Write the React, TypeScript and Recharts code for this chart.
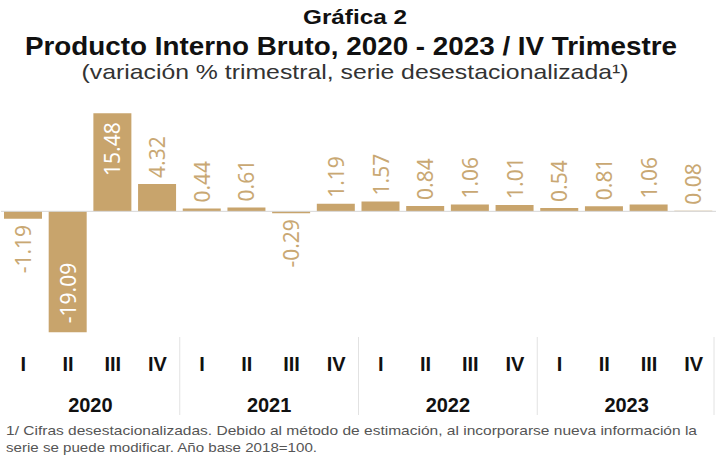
import React from "react";
import { BarChart, Bar, XAxis, YAxis, ReferenceLine, LabelList } from "recharts";

const quarters = ["I", "II", "III", "IV"];
const years = ["2020", "2021", "2022", "2023"];
const values = [-1.19, -19.09, 15.48, 4.32, 0.44, 0.61, -0.29, 1.19, 1.57, 0.84, 1.06, 1.01, 0.54, 0.81, 1.06, 0.08];

const data = values.map((v, i) => ({
  key: `${years[Math.floor(i / 4)]}-${quarters[i % 4]}`,
  q: quarters[i % 4],
  year: years[Math.floor(i / 4)],
  v,
}));

const W = 717;
const H = 458;
const MARGIN = { top: 110, right: 1, bottom: 30, left: 1 };
const BAR_COLOR = "#C8A46C";
const LABEL_COLOR = "#C9A873";
const SEP_COLOR = "#E2E2E2";

const AxisTick = (props: any) => {
  const { x, y, payload } = props;
  const idx = payload?.index ?? 0;
  const d = data[idx];
  const half = payload?.offset ? payload.offset : (W - MARGIN.left - MARGIN.right) / 32;
  const pos = idx % 4;
  return (
    <g>
      <text
        x={x}
        y={y + 33}
        textAnchor="middle"
        fontFamily="'Liberation Sans', Arial, sans-serif"
        fontWeight="bold"
        fontSize={20}
        fill="#111"
      >
        {d.q}
      </text>
      {pos === 1 && (
        <text
          x={x + half}
          y={y + 74}
          textAnchor="middle"
          fontFamily="'Liberation Sans', Arial, sans-serif"
          fontWeight="bold"
          fontSize={20}
          fill="#111"
        >
          {d.year}
        </text>
      )}
      {pos === 0 && idx > 0 && (
        <line x1={x - half} x2={x - half} y1={y - 1} y2={y + 77} stroke={SEP_COLOR} strokeWidth={1} />
      )}
      {idx === data.length - 1 && (
        <line x1={x + half - 2} x2={x + half - 2} y1={y - 1} y2={y + 77} stroke={SEP_COLOR} strokeWidth={1} />
      )}
    </g>
  );
};

const BarLabel = (props: any) => {
  const { x, y, width, height, value } = props;
  const v = Number(value);
  const cx = x + width / 2;
  const top = Math.min(y, y + height);
  const bottom = Math.max(y, y + height);
  const inside = Math.abs(v) > 10;
  let ly: number;
  let anchor: "start" | "end";
  if (v >= 0) {
    if (inside) {
      ly = top + 9;
      anchor = "end";
    } else {
      ly = top - 6;
      anchor = "start";
    }
  } else {
    if (inside) {
      ly = bottom - 9;
      anchor = "start";
    } else {
      ly = bottom + 6;
      anchor = "end";
    }
  }
  return (
    <text
      transform={`translate(${cx},${ly}) rotate(-90)`}
      textAnchor={anchor}
      dominantBaseline="central"
      fontFamily="'Noto Sans', 'Open Sans', sans-serif"
      fontSize={21}
      fill={inside ? "#FFFFFF" : LABEL_COLOR}
    >
      {v.toFixed(2)}
    </text>
  );
};

export default function App() {
  return (
    <div style={{ position: "absolute", left: 0, top: 0, width: W, height: H, background: "#fff" }}>
      <BarChart width={W} height={H} data={data} margin={MARGIN} barSize={38}>
        <YAxis hide domain={[-20, 16]} />
        <XAxis
          dataKey="key"
          axisLine={false}
          tickLine={false}
          tickSize={0}
          tickMargin={0}
          height={90}
          interval={0}
          tick={<AxisTick />}
        />
        <ReferenceLine y={0} stroke="#D6D6D6" strokeWidth={1} />
        <Bar dataKey="v" fill={BAR_COLOR} isAnimationActive={false}>
          <LabelList dataKey="v" content={<BarLabel />} />
        </Bar>
      </BarChart>
      <svg
        width={W}
        height={H}
        style={{ position: "absolute", left: 0, top: 0, pointerEvents: "none" }}
      >
        <text
          x={355}
          y={24}
          textAnchor="middle"
          fontFamily="'Liberation Sans', Arial, sans-serif"
          fontWeight="bold"
          fontSize={20}
          fill="#111"
          textLength={104}
          lengthAdjust="spacingAndGlyphs"
        >
          Gráfica 2
        </text>
        <text
          x={351}
          y={55}
          textAnchor="middle"
          fontFamily="'Liberation Sans', Arial, sans-serif"
          fontWeight="bold"
          fontSize={26}
          fill="#111"
          textLength={652}
          lengthAdjust="spacingAndGlyphs"
        >
          Producto Interno Bruto, 2020 - 2023 / IV Trimestre
        </text>
        <text
          x={355}
          y={79}
          textAnchor="middle"
          fontFamily="'Liberation Sans', Arial, sans-serif"
          fontSize={21}
          fill="#333"
          textLength={547}
          lengthAdjust="spacingAndGlyphs"
        >
          (variación % trimestral, serie desestacionalizada¹)
        </text>
        <text
          x={6}
          y={435}
          fontFamily="'Liberation Sans', Arial, sans-serif"
          fontSize={13.5}
          fill="#555"
          textLength={691}
          lengthAdjust="spacingAndGlyphs"
        >
          1/ Cifras desestacionalizadas. Debido al método de estimación, al incorporarse nueva información la
        </text>
        <text
          x={6}
          y={452}
          fontFamily="'Liberation Sans', Arial, sans-serif"
          fontSize={13.5}
          fill="#555"
          textLength={311}
          lengthAdjust="spacingAndGlyphs"
        >
          serie se puede modificar. Año base 2018=100.
        </text>
      </svg>
    </div>
  );
}
